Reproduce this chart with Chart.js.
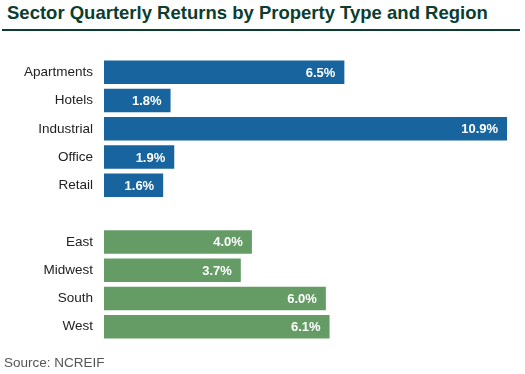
<!DOCTYPE html>
<html>
<head>
<meta charset="utf-8">
<script src="https://cdn.jsdelivr.net/npm/chart.js@4/dist/chart.umd.min.js"></script>
<style>
  body { margin: 0; background: #fff; font-family: "Liberation Sans", Arial, sans-serif; }
  .wrap { position: relative; width: 525px; height: 374px; }
  .title { position: absolute; left: 7px; top: 2px; font-size: 18.5px; font-weight: bold; color: #0b3d31; white-space: nowrap; }
  .rule { position: absolute; left: 2px; top: 29px; width: 518px; height: 2px; background: #0b3d31; }
  .chart { position: absolute; left: 0; top: 39px; width: 525px; height: 321px; }
  .source { position: absolute; left: 4px; top: 355px; font-size: 13.5px; color: #555; }
</style>
</head>
<body>
<div class="wrap">
  <div class="title">Sector Quarterly Returns by Property Type and Region</div>
  <div class="rule"></div>
  <div class="chart"><canvas id="myChart"></canvas></div>
  <div class="source">Source: NCREIF</div>
</div>
<script>
// property types, then a blank row, then regions
const categories = ['Apartments', 'Hotels', 'Industrial', 'Office', 'Retail', '', 'East', 'Midwest', 'South', 'West'];
const returns = [6.5, 1.8, 10.9, 1.9, 1.6, null, 4.0, 3.7, 6.0, 6.1];
const groups = ['type', 'type', 'type', 'type', 'type', 'none', 'region', 'region', 'region', 'region'];

const blue = '#17649e';
const green = '#659c66';

// draws the value inside the right end of each bar
const valueLabels = {
    id: 'valueLabels',
    afterDatasetsDraw(chart) {
        const ctx = chart.ctx;
        const meta = chart.getDatasetMeta(0);
        ctx.save();
        ctx.font = 'bold 13px "Liberation Sans", Arial, sans-serif';
        ctx.fillStyle = '#fff';
        ctx.textAlign = 'right';
        ctx.textBaseline = 'middle';
        meta.data.forEach(function(bar, i) {
            if (returns[i] === null) return;
            ctx.fillText(returns[i].toFixed(1) + '%', bar.x - 9, bar.y + 1);
        });
        ctx.restore();
    }
};

const ctx = document.getElementById('myChart').getContext('2d');

const myChart = new Chart(ctx, {
    type: 'bar',
    data: {
        labels: categories,
        datasets: [{
            data: returns,
            backgroundColor: groups.map(function(g) { return g === 'type' ? blue : green; }),
            barPercentage: 0.83,
            categoryPercentage: 1
        }]
    },
    options: {
        indexAxis: 'y',
        responsive: true,
        maintainAspectRatio: false,
        animation: false,
        layout: { padding: { top: 0, bottom: 0, left: 0, right: 5 } },
        plugins: {
            legend: { display: false },
            tooltip: { enabled: false }
        },
        scales: {
            x: {
                display: false,
                min: 0,
                max: 11.25
            },
            y: {
                grid: { display: false, drawTicks: false },
                border: { display: false },
                ticks: {
                    color: '#222',
                    padding: 11,
                    font: { family: '"Liberation Sans", Arial, sans-serif', size: 13.5 }
                },
                afterFit: function(scale) { scale.width = 104; }
            }
        }
    },
    plugins: [valueLabels]
});
</script>
</body>
</html>
